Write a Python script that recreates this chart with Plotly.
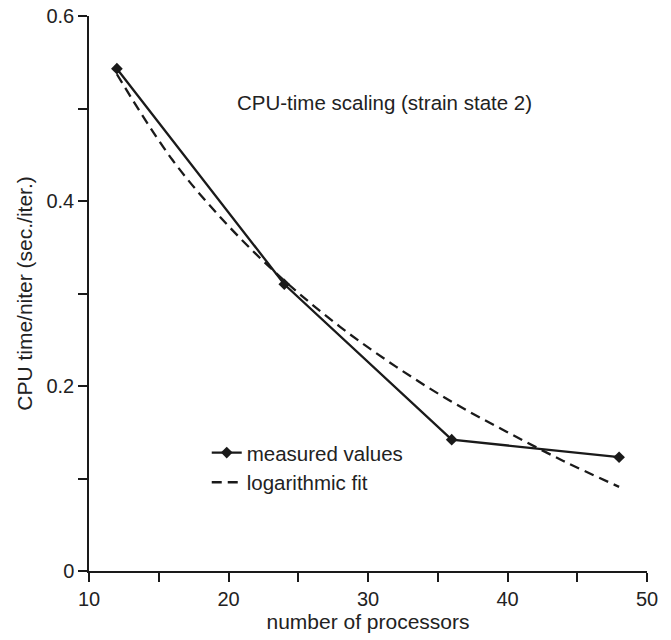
import plotly.graph_objects as go

# Data
processors = [12, 24, 36, 48]
cpu_time = [0.543, 0.310, 0.142, 0.123]

fit_x = [12, 16, 20, 24, 28, 32, 36, 40, 44, 48]
fit_y = [0.537, 0.444, 0.373, 0.314, 0.264, 0.221, 0.183, 0.150, 0.119, 0.091]

x_tickvals = [10, 15, 20, 25, 30, 35, 40, 45, 50]
x_ticktext = ["10", "", "20", "", "30", "", "40", "", "50"]
y_tickvals = [0, 0.1, 0.2, 0.3, 0.4, 0.5, 0.6]
y_ticktext = ["0", "", "0.2", "", "0.4", "", "0.6"]

ink = "#1a1a1a"
txt = "#222222"
font = "Liberation Sans, Arial, sans-serif"

fig = go.Figure()
fig.add_trace(go.Scatter(
    x=processors, y=cpu_time, name="measured values", mode="lines+markers",
    line=dict(color=ink, width=2.3), marker=dict(symbol="diamond", size=9, color=ink),
    cliponaxis=False,
))
fig.add_trace(go.Scatter(
    x=fit_x, y=fit_y, name="logarithmic fit", mode="lines",
    line=dict(color=ink, width=2.3, dash="10px,6px", shape="spline"),
    cliponaxis=False,
))

fig.add_annotation(
    x=31.2, y=0.506, xref="x", yref="y", text="CPU-time scaling (strain state 2)",
    showarrow=False, font=dict(family=font, size=20.5, color=txt),
)

axis_common = dict(
    showgrid=False, zeroline=False, showline=True, linecolor=ink, linewidth=1.5,
    ticks="outside", ticklen=9, tickwidth=1.5, tickcolor=ink, automargin=False,
    tickfont=dict(family=font, size=20, color=txt),
)

fig.update_layout(
    width=671, height=640,
    margin=dict(l=89, r=24, t=16, b=69),
    plot_bgcolor="white", paper_bgcolor="white",
    font=dict(family=font, size=20, color=txt),
    xaxis=dict(range=[10, 50], tickvals=x_tickvals, ticktext=x_ticktext,
               title=dict(text="number of processors", font=dict(family=font, size=21, color=txt), standoff=2),
               **axis_common),
    yaxis=dict(range=[0, 0.6], tickvals=y_tickvals, ticktext=y_ticktext,
               title=dict(text="CPU time/niter (sec./iter.)", font=dict(family=font, size=21, color=txt), standoff=8),
               **axis_common),
    legend=dict(x=0.211, y=0.186, xanchor="left", yanchor="middle",
                bgcolor="rgba(0,0,0,0)", font=dict(family=font, size=20.5, color=txt)),
    showlegend=True,
)

# remove the default page margin so the figure fills the 671x640 window exactly
fig.write_html("out.html", config={"displayModeBar": False},
               post_script="document.body.style.margin='0';")
